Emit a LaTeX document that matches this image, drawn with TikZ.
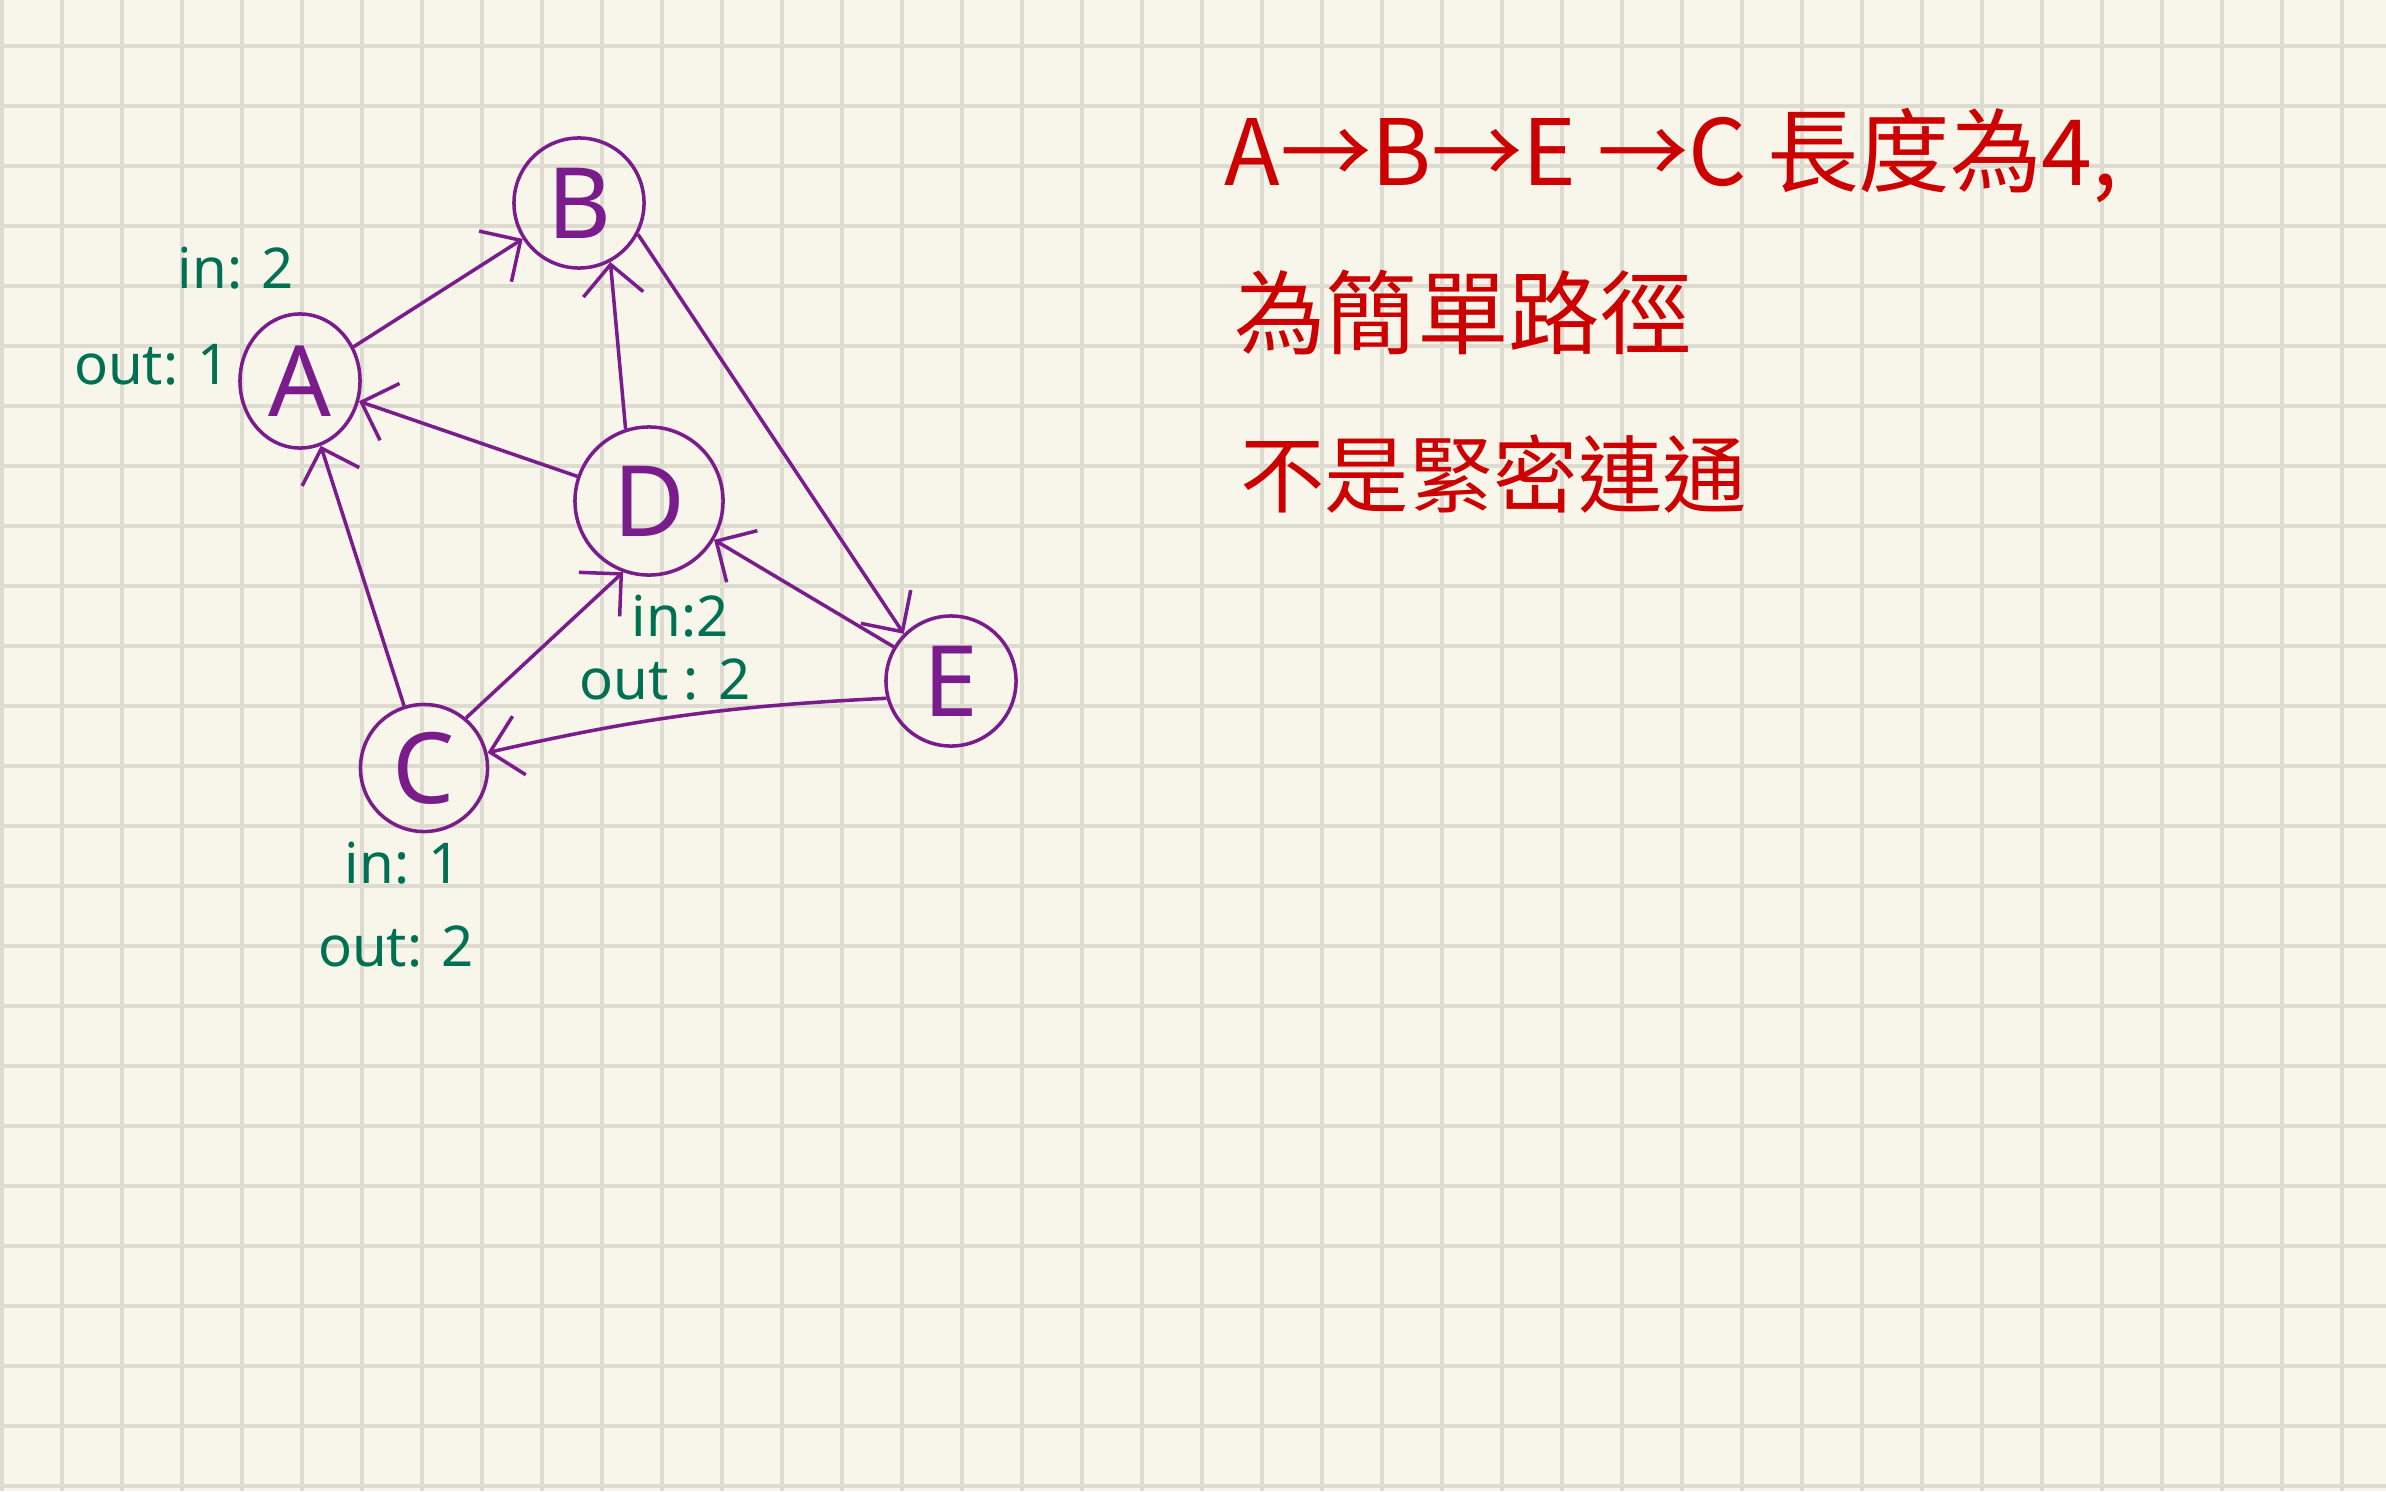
\documentclass[tikz,border=0pt]{standalone}
\usepackage{fontspec}
\setmainfont{Noto Sans}
\newfontfamily\cjk{Noto Sans CJK TC}
\usetikzlibrary{arrows.meta, shapes.geometric}

\definecolor{paper}{RGB}{248,246,234}
\definecolor{gridline}{RGB}{222,220,209}
\definecolor{pen}{RGB}{122,28,140}
\definecolor{ink}{RGB}{0,112,82}
\definecolor{note}{RGB}{204,0,0}

\tikzset{
  vert/.style={circle, draw=pen, text=pen, line width=1pt, inner sep=0pt,
    minimum size=1.3cm, font=\fontsize{28}{30}\selectfont},
  edge/.style={draw=pen, line width=1pt,
    -{Straight Barb[length=0.3cm, width=0.6cm, line width=1pt]}},
  deg/.style={text=ink, font=\fontsize{16}{18}\selectfont},
  remark/.style={text=note, anchor=west, font=\cjk\fontsize{26}{30}\selectfont}
}

\begin{document}
\begin{tikzpicture}[x=0.01cm, y=-0.01cm]
            \fill[paper] (0,0) rectangle (2386,1491);
            \useasboundingbox (0,0) rectangle (2386,1491);
            \foreach \gx in {2,62,...,2386}
              \draw[gridline, line width=0.9pt] (\gx,0) -- (\gx,1491);
            \foreach \gy in {46,106,...,1491}
              \draw[gridline, line width=0.9pt] (0,\gy) -- (2386,\gy);

            \node[vert, ellipse, minimum width=1.2cm, minimum height=1.34cm] (A) at (300,381) {A};
            \node[vert, minimum size=1.3cm] (B) at (579,203) {B};
            \node[vert, minimum size=1.27cm] (C) at (424,768) {C};
            \node[vert, minimum size=1.48cm] (D) at (649,501) {D};
            \node[vert, minimum size=1.3cm] (E) at (951,681) {E};

            \draw[edge] (A) -- (B);
            \draw[edge] (B.-28) -- (E.135);
            \draw[edge] (D.108) -- (B.-62);
            \draw[edge] (D) -- (A);
            \draw[edge] (C) -- (A);
            \draw[edge] (C.50) -- (D.-110);
            \draw[edge] (E) -- (D);
            \draw[edge] (E.195) to[bend right=5] (C);

            % in / out degrees
            \node[deg] (Ain) at (236,268) {in: 2};
            \node[deg] (Aout) at (152,365) {out: 1};
            \node[deg] (Din) at (680,616) {in:2};
            \node[deg] (Dout) at (665,680) {out : 2};
            \node[deg] (Cin) at (403,863) {in: 1};
            \node[deg] (Cout) at (396,947) {out: 2};

            \node[remark] (path) at (1212,156) {A→B→E →C 長度為4,};
            \node[remark] (simple) at (1222,312) {為簡單路徑};
            \node[remark, font=\cjk\fontsize{24}{30}\selectfont] (strong) at (1228,474) {不是緊密連通};
\end{tikzpicture}
\end{document}
